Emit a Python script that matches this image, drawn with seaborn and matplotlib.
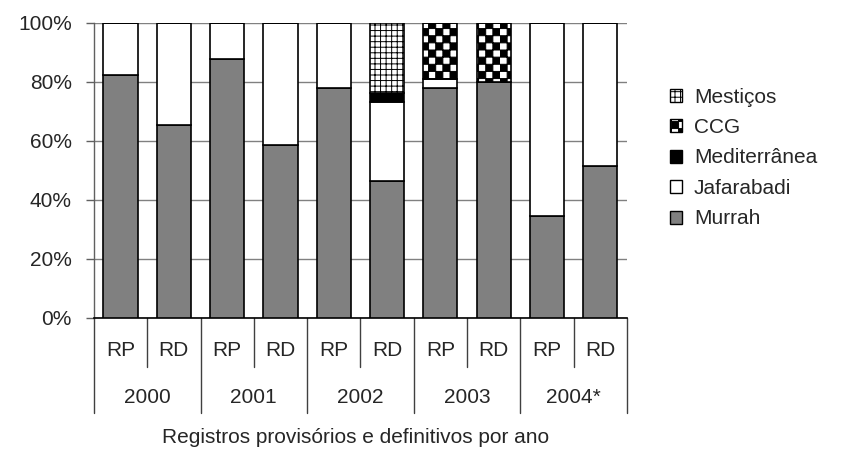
import numpy as np
import pandas as pd
import seaborn as sns
import matplotlib.pyplot as plt
from matplotlib import hatch as mhatch
from matplotlib.path import Path
from matplotlib.patches import Patch
from matplotlib.ticker import PercentFormatter

# --- data (percent of registrations per breed) ---
anos = ["2000", "2001", "2002", "2003", "2004*"]
tipos = ["RP", "RD"]
racas = ["Murrah", "Jafarabadi", "Mediterrânea", "CCG", "Mestiços"]
murrah = [82.5, 65.3, 87.8, 58.6, 78.1, 46.4, 78.1, 80.0, 34.5, 51.4]
jafarabadi = [17.5, 34.7, 12.2, 41.4, 21.9, 26.7, 3.0, 0.0, 65.5, 48.6]
mediterranea = [0, 0, 0, 0, 0, 3.3, 0, 0, 0, 0]
ccg = [0, 0, 0, 0, 0, 0, 18.9, 20.0, 0, 0]
mesticos = [0, 0, 0, 0, 0, 23.6, 0, 0, 0, 0]

sns.set_theme(style="ticks", rc={"hatch.linewidth": 0.7})
plt.rcParams["font.family"] = ["Liberation Sans", "DejaVu Sans"]
FS = 15


class CheckerHatch(mhatch.HatchPatternBase):
    # checkerboard fill used for CCG, keyed on "O"
    def __init__(self, hatch, density):
        self.n = hatch.count("O") * 14
        self.num_vertices = (self.n * self.n // 2) * 5

    def set_vertices_and_codes(self, vertices, codes):
        s = 1.0 / self.n
        sq = np.array([[0, 0], [1, 0], [1, 1], [0, 1], [0, 0]]) * s
        k = 0
        for i in range(self.n):
            for j in range(self.n):
                if (i + j) % 2 == 0:
                    vertices[k:k + 5] = sq + [i * s, j * s]
                    codes[k:k + 5] = [Path.MOVETO, Path.LINETO, Path.LINETO,
                                      Path.LINETO, Path.CLOSEPOLY]
                    k += 5


mhatch._hatch_types[:] = [t for t in mhatch._hatch_types
                          if t is not mhatch.LargeCircles] + [CheckerHatch]

cats = [f"{a} {t}" for a in anos for t in tipos]
valores = {"Murrah": murrah, "Jafarabadi": jafarabadi,
           "Mediterrânea": mediterranea, "CCG": ccg, "Mestiços": mesticos}
df = pd.DataFrame([
    {"categoria": c, "raca": r, "valor": valores[r][i]}
    for r in racas for i, c in enumerate(cats)
])

estilos = {
    "Murrah": dict(color="#808080", hatch=None),
    "Jafarabadi": dict(color="white", hatch=None),
    "Mediterrânea": dict(color="black", hatch=None),
    "CCG": dict(color="white", hatch="O"),
    "Mestiços": dict(color="white", hatch="+++"),
}

fig = plt.figure(figsize=(8.46, 4.54), dpi=100)
ax = fig.add_axes([0.111, 0.2996, 0.630, 0.650])

base = np.zeros(len(cats))
for r in racas:
    sub = df[df["raca"] == r]
    sns.barplot(data=sub, x="categoria", y="valor", order=cats, ax=ax,
                bottom=base.copy(), width=0.64, errorbar=None, saturation=1,
                color=estilos[r]["color"], hatch=estilos[r]["hatch"],
                edgecolor="black", linewidth=1.2, zorder=3)
    base += sub["valor"].to_numpy()

ax.set_ylim(0, 100)
ax.set_xlim(-0.5, len(cats) - 0.5)
ax.set_yticks(np.arange(0, 101, 20))
ax.yaxis.set_major_formatter(PercentFormatter(decimals=0))
ax.set_xlabel("")
ax.set_ylabel("")
ax.set_xticks([])
ax.yaxis.grid(True, color="#808080", lw=1)
ax.set_axisbelow(True)
ax.tick_params(axis="y", labelsize=FS, length=6, width=1, color="#606060", pad=10)
for s in ["top", "right"]:
    ax.spines[s].set_visible(False)
ax.spines["left"].set_color("#606060")
ax.spines["left"].set_linewidth(1)
ax.spines["bottom"].set_color("black")
ax.spines["bottom"].set_linewidth(1.2)

# category separators below the axis
trans = ax.get_xaxis_transform()
for k in range(len(cats) + 1):
    x = k - 0.5
    y_end = -0.322 if k % 2 == 0 else -0.166
    ax.plot([x, x], [0, y_end], color="#404040", lw=1, transform=trans, clip_on=False)

for i, c in enumerate(cats):
    ax.text(i, -0.11, tipos[i % 2], transform=trans, ha="center", va="center", fontsize=FS)
for j, a in enumerate(anos):
    ax.text(2 * j + 0.5, -0.27, a, transform=trans, ha="center", va="center", fontsize=FS)
ax.text(0.49, -0.405, "Registros provisórios e definitivos por ano",
        transform=ax.transAxes, ha="center", va="center", fontsize=FS)

handles = [Patch(facecolor=estilos[r]["color"], edgecolor="black",
                 hatch=estilos[r]["hatch"], linewidth=1, label=r)
           for r in reversed(racas)]
fig.legend(handles=handles, loc="center left", bbox_to_anchor=(0.780, 0.652),
           frameon=False, fontsize=FS, handlelength=0.58, handleheight=0.58,
           handletextpad=0.55, labelspacing=0.55, borderpad=0)

fig.savefig("out.png", dpi=100)
